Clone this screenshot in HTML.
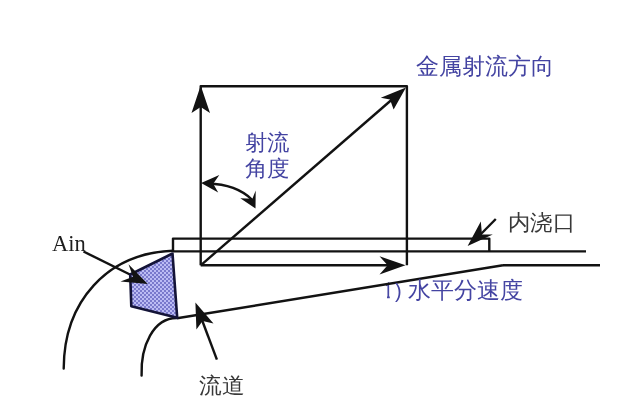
<!DOCTYPE html>
<html><head><meta charset="utf-8">
<style>
html,body{margin:0;padding:0;background:#fff;}
body{width:634px;height:417px;overflow:hidden;position:relative;}
svg{position:absolute;left:0;top:0;}
.t{filter:blur(0.3px);position:absolute;font-family:"Liberation Sans",sans-serif;white-space:nowrap;line-height:1;}
.b{color:#4444a2;}
.g{color:#383838;}
</style></head><body>
<svg width="634" height="417" viewBox="0 0 634 417">
<defs>
<pattern id="chk" width="4" height="4" patternUnits="userSpaceOnUse">
<rect width="4" height="4" fill="#7a7acc"/>
<rect width="2" height="2" fill="#bcbcf4"/>
<rect x="2" y="2" width="2" height="2" fill="#bcbcf4"/>
</pattern>
</defs>
<path d="M386,285.5 L388.3,283.5 V297.2 M387,297.3 H389.8" fill="none" stroke="#4848a4" stroke-width="1.7"/>
<g fill="none" stroke="#121212" stroke-width="2.4" stroke-linejoin="round">
<!-- big box -->
<polyline points="200.7,265.3 200.7,86.3 406.9,86.3 406.9,265.3"/>
<!-- thin rect / channel -->
<polyline points="173,251.4 173,238.6 489.3,238.6 489.3,251.4"/>
<line x1="173" y1="251.4" x2="586" y2="251.4"/>
<line x1="200.7" y1="265.3" x2="392" y2="265.3"/>
<line x1="503" y1="265.2" x2="600" y2="265.2"/>
<line x1="177" y1="318.3" x2="503" y2="265.2"/>
<!-- diagonal -->
<line x1="200.7" y1="265.3" x2="396" y2="96"/>
<!-- outer curve -->
<path stroke-linecap="round" d="M63.7,368.6 C63.9,301.4 107.2,253 173,250.8"/>
<!-- inner curve -->
<path stroke-linecap="round" d="M141.6,375.6 C140.5,346 153.4,317.8 177,318"/>
<!-- Ain arrow -->
<line x1="83.5" y1="251.5" x2="134" y2="276.5"/>
<!-- flow arrow -->
<line x1="216.9" y1="359.6" x2="202" y2="320"/>
<!-- gate arrow -->
<line x1="495.8" y1="219" x2="481" y2="234"/>
<!-- angle arc -->
<path d="M208,183.8 Q236,184 252.4,200"/>
</g>
<!-- polygon -->
<polygon points="172.5,253.5 130.2,274.5 131.3,306.3 177.2,317.8" fill="url(#chk)" stroke="#141438" stroke-width="2.6" stroke-linejoin="round"/>
<g fill="#121212" stroke="none">
<!-- vertical arrow head up -->
<polygon points="200.7,85.5 210,113 200.7,107 191.5,113"/>
<!-- diagonal head -->
<polygon points="406,87.6 393.6,109.6 390,99.5 380.8,97.8"/>
<!-- horizontal head -->
<polygon points="405.5,265.3 379.5,256.3 387.6,265.3 379.5,274.5"/>
<!-- Ain head -->
<polygon points="147.8,284 128.5,264.3 133,276.8 120.5,281.5"/>
<!-- flow head -->
<polygon points="195.4,302.6 213.5,323.5 202.6,321 196.4,329.4"/>
<!-- gate head -->
<polygon points="467.6,246 480.8,221.4 482,234.5 492.8,234.6"/>
<!-- angle arc heads -->
<polygon points="201.1,183 219.3,175 213.2,183.8 218.2,192.6"/>
<polygon points="255.5,208.6 255.7,190.4 252.4,198.7 240.3,198.2"/>
</g>
</svg>
<div class="t b" style="left:416px;top:55px;font-size:23px;">金属射流方向</div>
<div class="t b" style="left:244.5px;top:129.6px;font-size:22px;line-height:26.7px;transform:scaleX(1.02);transform-origin:0 0;">射流<br>角度</div>
<div class="t g" style="left:52px;top:233px;font-size:22.5px;font-family:'Liberation Serif',serif;transform:scaleY(1.05);transform-origin:0 100%;color:#1e1e1e;">Ain</div>
<div class="t g" style="left:508px;top:212px;font-size:22px;transform:scaleX(1.02);transform-origin:0 0;">内浇口</div>
<div class="t b" style="left:395px;top:281px;font-size:20px;">)</div>
<div class="t b" style="left:408px;top:280px;font-size:22.5px;">水平分速度</div>
<div class="t g" style="left:199px;top:375px;font-size:22px;transform:scaleX(1.03);transform-origin:0 0;">流道</div>
</body></html>
